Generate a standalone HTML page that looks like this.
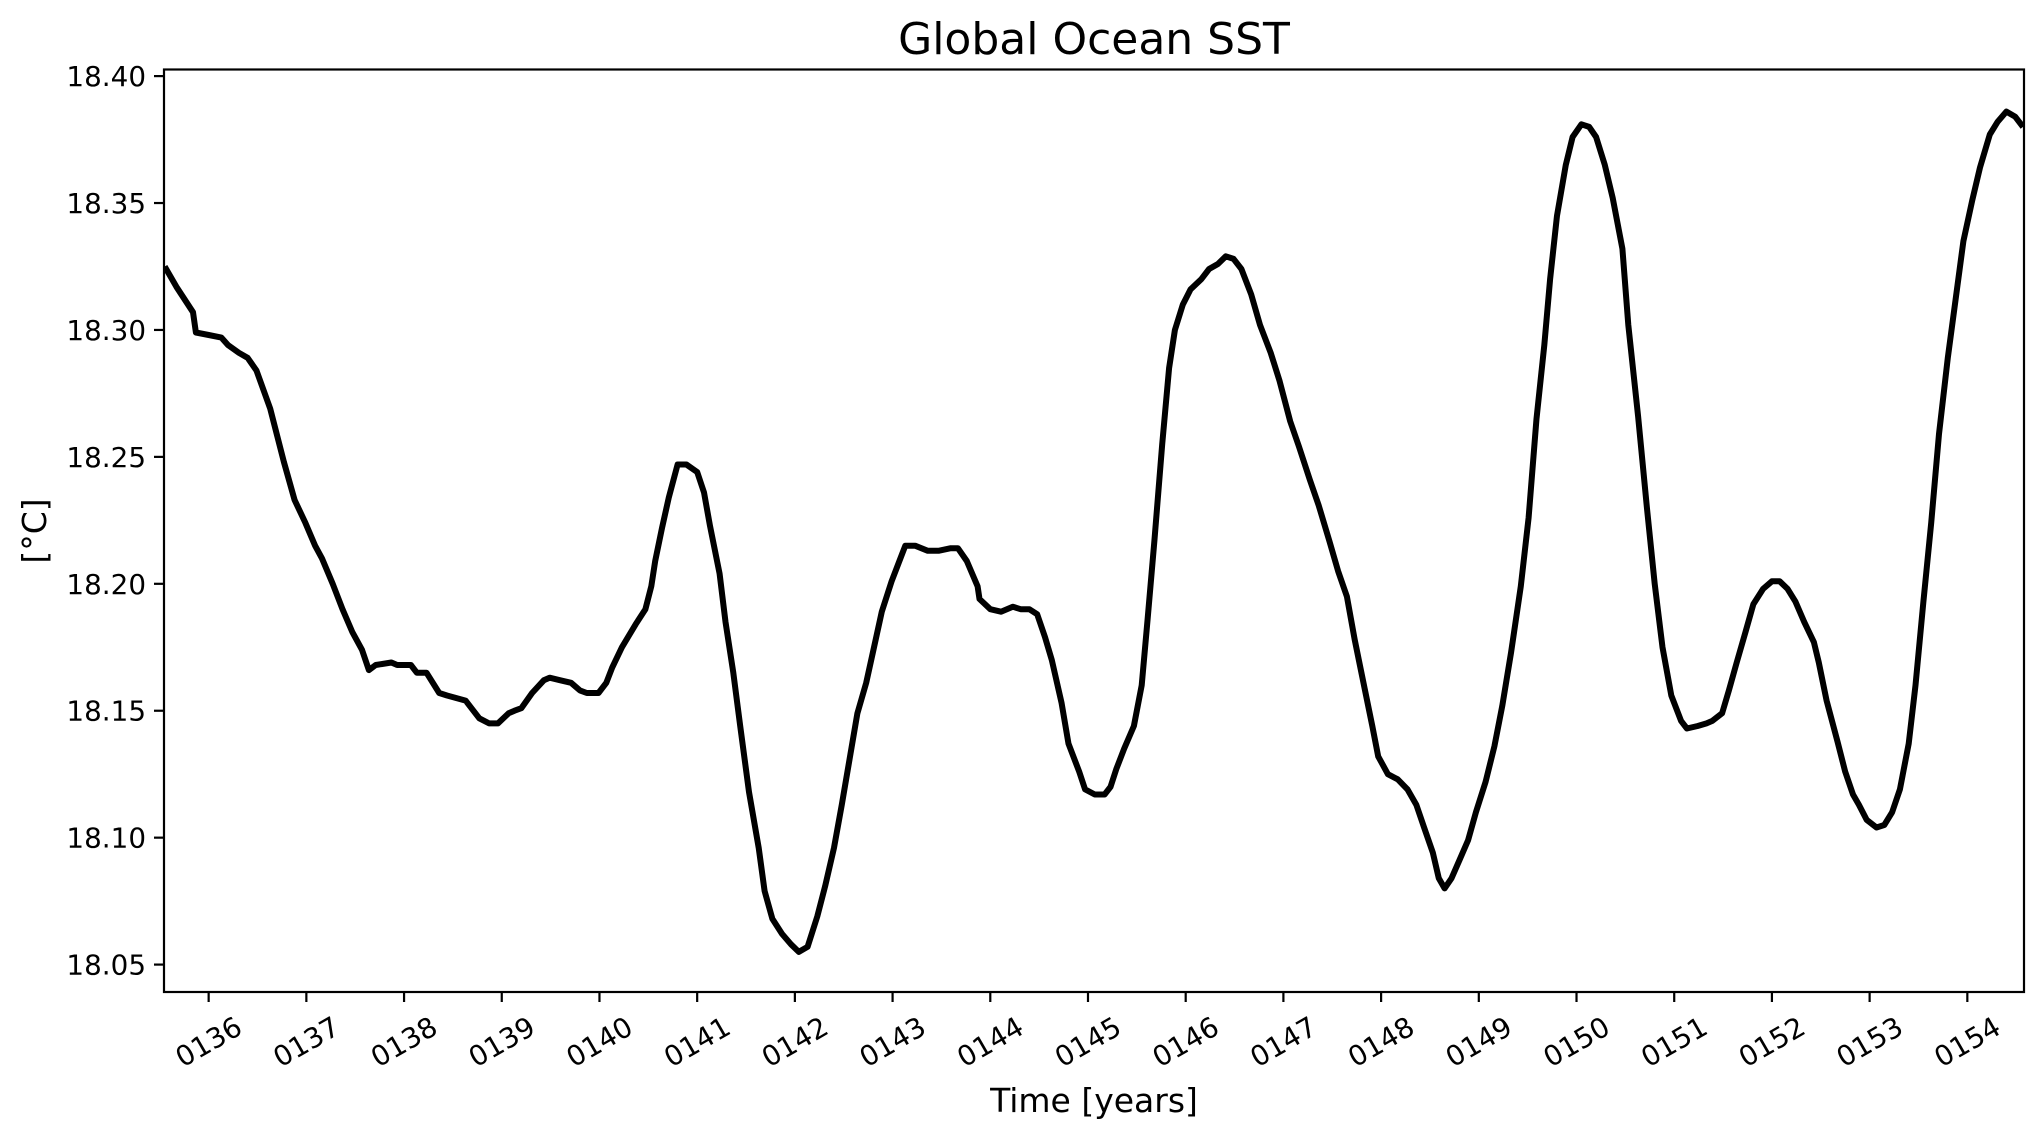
<!DOCTYPE html>
<html><head><meta charset="utf-8"><title>Global Ocean SST</title>
<style>html,body{margin:0;padding:0;background:#fff}svg{display:block}text{font-family:"DejaVu Sans","Liberation Sans",sans-serif;fill:#000}</style>
</head><body>
<svg id="chart" width="2044" height="1137" viewBox="0 0 2044 1137" xmlns="http://www.w3.org/2000/svg">
<rect x="0" y="0" width="2044" height="1137" fill="#fff"/>
<text x="1094" y="54" font-size="44" text-anchor="middle">Global Ocean SST</text>
<text x="1094" y="1112" font-size="33" text-anchor="middle">Time [years]</text>
<text transform="translate(46,531) rotate(-90)" font-size="33" text-anchor="middle">[°C]</text>
<g id="ticks"></g>
<g id="plot"></g>
<rect x="164" y="69.5" width="1860" height="922.5" fill="none" stroke="#000" stroke-width="2.2"/>
</svg>
<script>
const years = [135.55,135.67,135.84,135.87,136.00,136.13,136.20,136.31,136.40,136.49,136.63,136.77,136.88,136.99,137.09,137.16,137.27,137.37,137.47,137.57,137.64,137.71,137.87,137.93,138.07,138.13,138.23,138.36,138.44,138.63,138.71,138.77,138.87,138.96,139.07,139.13,139.20,139.31,139.43,139.49,139.60,139.71,139.80,139.87,139.99,140.07,140.13,140.23,140.37,140.47,140.53,140.57,140.64,140.71,140.80,140.89,141.00,141.07,141.13,141.23,141.29,141.37,141.44,141.53,141.63,141.69,141.77,141.87,141.96,142.04,142.13,142.23,142.31,142.40,142.48,142.56,142.64,142.73,142.81,142.89,142.99,143.07,143.13,143.23,143.36,143.47,143.59,143.67,143.76,143.87,143.89,144.00,144.11,144.23,144.31,144.40,144.48,144.56,144.63,144.73,144.80,144.91,144.97,145.07,145.17,145.23,145.29,145.37,145.47,145.55,145.61,145.68,145.76,145.83,145.89,145.97,146.05,146.16,146.24,146.33,146.41,146.49,146.57,146.67,146.76,146.87,146.96,147.07,147.16,147.27,147.36,147.47,147.56,147.65,147.73,147.83,147.91,147.97,148.07,148.17,148.27,148.36,148.44,148.53,148.59,148.65,148.72,148.80,148.89,148.97,149.07,149.16,149.24,149.33,149.43,149.51,149.59,149.67,149.73,149.80,149.89,149.96,150.05,150.13,150.20,150.29,150.37,150.47,150.53,150.63,150.72,150.80,150.88,150.97,151.07,151.13,151.24,151.33,151.39,151.49,151.56,151.64,151.73,151.81,151.91,152.00,152.08,152.16,152.24,152.33,152.43,152.48,152.56,152.67,152.75,152.83,152.89,152.97,153.07,153.15,153.23,153.31,153.40,153.47,153.55,153.63,153.71,153.80,153.88,153.96,154.05,154.13,154.23,154.31,154.40,154.49,154.57];
const sst = [18.325,18.317,18.307,18.299,18.298,18.297,18.294,18.291,18.289,18.284,18.269,18.248,18.233,18.224,18.215,18.210,18.200,18.190,18.181,18.174,18.166,18.168,18.169,18.168,18.168,18.165,18.165,18.157,18.156,18.154,18.150,18.147,18.145,18.145,18.149,18.150,18.151,18.157,18.162,18.163,18.162,18.161,18.158,18.157,18.157,18.161,18.167,18.175,18.184,18.190,18.199,18.209,18.222,18.234,18.247,18.247,18.244,18.236,18.223,18.204,18.185,18.165,18.144,18.118,18.096,18.079,18.068,18.062,18.058,18.055,18.057,18.069,18.081,18.096,18.113,18.131,18.149,18.161,18.175,18.189,18.201,18.209,18.215,18.215,18.213,18.213,18.214,18.214,18.209,18.199,18.194,18.190,18.189,18.191,18.190,18.190,18.188,18.179,18.170,18.153,18.137,18.126,18.119,18.117,18.117,18.120,18.127,18.135,18.144,18.160,18.186,18.217,18.255,18.285,18.300,18.310,18.316,18.320,18.324,18.326,18.329,18.328,18.324,18.314,18.302,18.291,18.280,18.264,18.254,18.241,18.231,18.217,18.205,18.195,18.178,18.159,18.144,18.132,18.125,18.123,18.119,18.113,18.104,18.094,18.084,18.080,18.084,18.091,18.099,18.110,18.122,18.136,18.152,18.173,18.199,18.226,18.265,18.294,18.320,18.345,18.365,18.376,18.381,18.380,18.376,18.365,18.352,18.332,18.302,18.266,18.230,18.200,18.175,18.156,18.146,18.143,18.144,18.145,18.146,18.149,18.158,18.169,18.181,18.192,18.198,18.201,18.201,18.198,18.193,18.185,18.177,18.169,18.154,18.138,18.126,18.117,18.113,18.107,18.104,18.105,18.110,18.119,18.137,18.160,18.193,18.224,18.259,18.289,18.312,18.335,18.351,18.364,18.377,18.382,18.386,18.384,18.380];
const xTickValues = [136,137,138,139,140,141,142,143,144,145,146,147,148,149,150,151,152,153,154];
const xTickLabels = ["0136","0137","0138","0139","0140","0141","0142","0143","0144","0145","0146","0147","0148","0149","0150","0151","0152","0153","0154"];
const yTickValues = [18.05,18.10,18.15,18.20,18.25,18.30,18.35,18.40];
const yTickLabels = ["18.05","18.10","18.15","18.20","18.25","18.30","18.35","18.40"];

const NS = "http://www.w3.org/2000/svg";
const L = 164, R = 2024, T = 69.5, B = 992;
const xMin = 135.543, xMax = 154.58, yMin = 18.0392, yMax = 18.4026;
function xs(v){ return L + (v - xMin) / (xMax - xMin) * (R - L); }
function ys(v){ return B - (v - yMin) / (yMax - yMin) * (B - T); }

const ticks = document.getElementById('ticks');
xTickValues.forEach((v, i) => {
  const x = xs(v);
  const ln = document.createElementNS(NS, 'line');
  
  
  ln.setAttribute('x1', x); ln.setAttribute('x2', x);
  ln.setAttribute('y1', B); ln.setAttribute('y2', B + 10);
  ln.setAttribute('stroke', '#000'); ln.setAttribute('stroke-width', '2.2');
  ticks.appendChild(ln);
  const t = document.createElementNS(NS, 'text');
  
  
  t.setAttribute('font-size', '27.8');
  t.setAttribute('text-anchor', 'middle');
  t.setAttribute('dominant-baseline', 'central');
  t.setAttribute('transform', 'translate(' + x + ',1042) rotate(-30)');
  t.textContent = xTickLabels[i];
  ticks.appendChild(t);
});
yTickValues.forEach((v, i) => {
  const y = ys(v);
  const ln = document.createElementNS(NS, 'line');
  
  
  ln.setAttribute('x1', L - 10); ln.setAttribute('x2', L);
  ln.setAttribute('y1', y); ln.setAttribute('y2', y);
  ln.setAttribute('stroke', '#000'); ln.setAttribute('stroke-width', '2.2');
  ticks.appendChild(ln);
  const t = document.createElementNS(NS, 'text');
  
  
  t.setAttribute('font-size', '27.8');
  t.setAttribute('text-anchor', 'end');
  t.setAttribute('x', L - 18);
  t.setAttribute('y', y + 10);
  t.textContent = yTickLabels[i];
  ticks.appendChild(t);
});

const plot = document.getElementById('plot');
const clip = document.createElementNS(NS, 'clipPath');
clip.setAttribute('id', 'axclip');
const cr = document.createElementNS(NS, 'rect');
cr.setAttribute('x', L); cr.setAttribute('y', T); cr.setAttribute('width', R - L); cr.setAttribute('height', B - T);
clip.appendChild(cr);
plot.appendChild(clip);
let d = '';
years.forEach((yr, i) => { d += (i ? 'L' : 'M') + xs(yr).toFixed(1) + ' ' + ys(sst[i]).toFixed(1); });
const path = document.createElementNS(NS, 'path');


path.setAttribute('d', d);
path.setAttribute('fill', 'none');
path.setAttribute('stroke', '#000');
path.setAttribute('stroke-width', '6');
path.setAttribute('stroke-linejoin', 'round');
path.setAttribute('clip-path', 'url(#axclip)');
plot.appendChild(path);
</script>
</body></html>
